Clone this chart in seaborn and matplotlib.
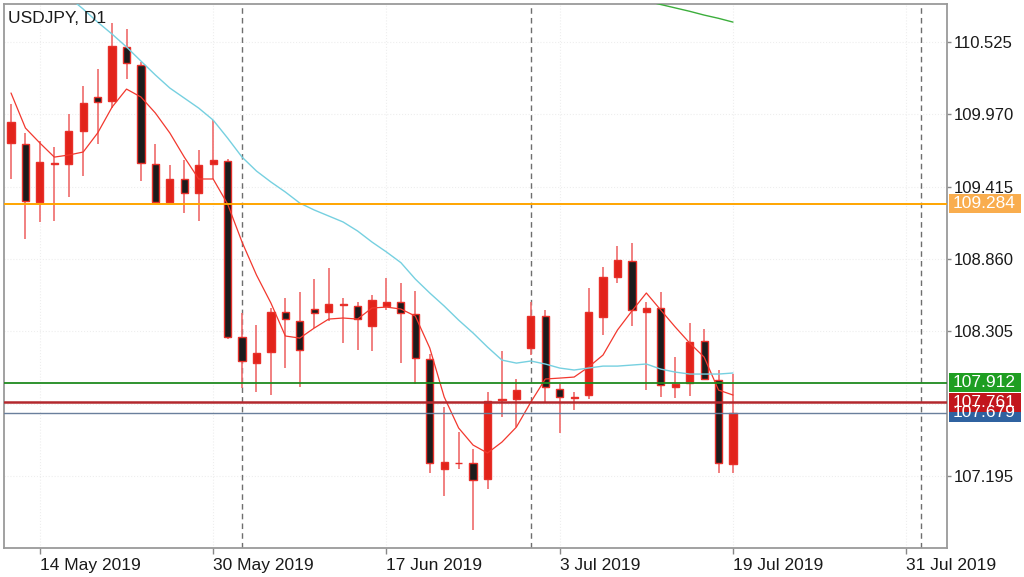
import matplotlib
matplotlib.use('Agg')
import matplotlib.pyplot as plt
import matplotlib.transforms as mtransforms
from matplotlib.patches import Rectangle
import seaborn as sns

# daily candles, 10 May 2019 .. 19 Jul 2019
opens = [109.750, 109.742, 109.297, 109.592, 109.589, 109.842, 110.103, 110.072, 110.487, 110.348,
         109.589, 109.297, 109.474, 109.366, 109.589, 109.612, 108.261, 108.061, 108.146, 108.453,
         108.384, 108.476, 108.453, 108.507, 108.499, 108.345, 108.499, 108.530, 108.437, 108.092,
         107.248, 107.292, 107.294, 107.171, 107.778, 107.785, 108.177, 108.422, 107.862, 107.797,
         107.816, 108.415, 108.722, 108.844, 108.453, 108.484, 107.877, 107.908, 108.230, 107.931,
         107.286]
highs = [110.049, 109.827, 109.765, 109.719, 109.972, 110.187, 110.318, 110.671, 110.625, 110.371,
         109.742, 109.581, 109.619, 109.696, 109.926, 109.627, 108.445, 108.353, 108.484, 108.560,
         108.606, 108.706, 108.791, 108.560, 108.530, 108.583, 108.714, 108.675, 108.614, 108.130,
         107.724, 107.532, 107.401, 107.839, 108.153, 107.939, 108.530, 108.468, 107.900, 107.839,
         108.637, 108.798, 108.959, 108.982, 108.530, 108.606, 108.107, 108.369, 108.322, 108.008,
         107.977]
lows = [109.474, 109.013, 109.144, 109.151, 109.335, 109.497, 109.742, 110.018, 110.241, 109.458,
        109.289, 109.289, 109.213, 109.151, 109.474, 108.246, 107.870, 107.839, 107.816, 108.023,
        107.877, 108.330, 108.384, 108.215, 108.161, 108.154, 108.468, 108.061, 107.900, 107.217,
        107.041, 107.248, 106.780, 107.095, 107.647, 107.570, 108.123, 107.754, 107.524, 107.701,
        107.785, 108.276, 108.675, 108.345, 107.854, 107.800, 107.793, 107.808, 107.931, 107.217,
        107.217]
closes = [109.911, 109.305, 109.604, 109.600, 109.842, 110.057, 110.065, 110.494, 110.364, 109.596,
          109.297, 109.474, 109.366, 109.581, 109.619, 108.261, 108.077, 108.138, 108.453, 108.399,
          108.161, 108.445, 108.514, 108.514, 108.399, 108.545, 108.530, 108.445, 108.100, 107.294,
          107.302, 107.296, 107.164, 107.770, 107.785, 107.854, 108.422, 107.877, 107.800, 107.800,
          108.453, 108.722, 108.852, 108.468, 108.484, 107.893, 107.900, 108.223, 107.939, 107.294,
          107.678]

# moving averages
ma_fast = [110.134, 109.865, 109.750, 109.642, 109.658, 109.681, 109.827, 110.026, 110.164, 110.103,
           109.980, 109.827, 109.642, 109.474, 109.474, 109.282, 108.990, 108.737, 108.522, 108.269,
           108.253, 108.330, 108.399, 108.407, 108.399, 108.484, 108.491, 108.476, 108.422, 108.177,
           107.801, 107.563, 107.432, 107.371, 107.455, 107.570, 107.762, 107.939, 107.946, 107.954,
           108.031, 108.123, 108.315, 108.461, 108.599, 108.468, 108.338, 108.215, 108.107, 107.854,
           107.816]
ma_mid_start = 4
ma_mid = [110.870, 110.778, 110.678, 110.586, 110.487, 110.379, 110.272, 110.172, 110.095, 110.018,
          109.926, 109.788, 109.642, 109.535, 109.451, 109.374, 109.289, 109.236, 109.190, 109.144,
          109.075, 108.990, 108.914, 108.832, 108.706, 108.599, 108.499, 108.391, 108.292, 108.184,
          108.084, 108.061, 108.077, 108.054, 108.023, 108.008, 108.023, 108.038, 108.038, 108.046,
          108.054, 108.015, 107.992, 107.977, 107.977, 107.977, 107.985]
ma_slow_start = 44
ma_slow = [110.841, 110.813, 110.787, 110.761, 110.732, 110.707, 110.678]

# horizontal levels
levels = [109.284, 107.912, 107.761, 107.679]
level_names = ['109.284', '107.912', '107.761', '107.679']

yticks = [107.195, 108.305, 108.860, 109.415, 109.970, 110.525]
xtick_pos = [2, 14, 26, 38, 50, 62]
xtick_labels = ['14 May 2019', '30 May 2019', '17 Jun 2019', '3 Jul 2019', '19 Jul 2019', '31 Jul 2019']
separators = [16, 36, 63]

sns.set_theme(style='white')
plt.rcParams['font.family'] = ['Liberation Sans', 'DejaVu Sans']

fig = plt.figure(figsize=(10.24, 5.77), dpi=100)
ax = fig.add_axes([4 / 1024, 29 / 577, 942.7 / 1024, 544 / 577])

idx = list(range(len(opens)))

# faint grid
for xp in xtick_pos:
    ax.axvline(xp, color='#eeeeee', lw=0.8, ls=':', zorder=0)
for yp in yticks + [107.750]:
    ax.axhline(yp, color='#eeeeee', lw=0.8, ls=':', zorder=0)

# month separators
for s in separators:
    ax.axvline(s, color='#6e6e6e', lw=1, ls=(0, (4, 3)), zorder=1)

# candles
up = [c >= o for o, c in zip(opens, closes)]
ax.vlines(idx, lows, highs, color='#ef6b6b', lw=1.2, zorder=2)
bottoms = [min(o, c) for o, c in zip(opens, closes)]
heights = [max(abs(c - o), 0.004) for o, c in zip(opens, closes)]
fills = ['#e2231a' if u else '#1c1c1c' for u in up]
ax.bar(idx, heights, bottom=bottoms, width=0.5, color=fills,
       edgecolor='#e8302a', linewidth=1.0, zorder=3)

# moving averages
sns.lineplot(x=idx, y=ma_fast, ax=ax, color='#f2382e', lw=0.9, zorder=4)
sns.lineplot(x=list(range(ma_mid_start, ma_mid_start + len(ma_mid))), y=ma_mid, ax=ax,
             color='#76d0e0', lw=1.0, zorder=4)
sns.lineplot(x=list(range(ma_slow_start, ma_slow_start + len(ma_slow))), y=ma_slow, ax=ax,
             color='#3cae3c', lw=1.0, zorder=4)

line_cols = ['#ffa500', '#1f8a1f', '#b3282d', '#6a7f9c']
line_w = [1.4, 1.3, 1.8, 1.0]
for lv, lc, lw in zip(levels, line_cols, line_w):
    ax.axhline(lv, color=lc, lw=lw, zorder=5)

ax.set_xlim(-0.485, 64.8)
ax.set_ylim(106.642, 110.817)

ax.yaxis.tick_right()
ax.set_yticks(yticks)
ax.set_yticklabels(['%.3f' % v for v in yticks])
ax.set_xticks(xtick_pos)
ax.set_xticklabels(xtick_labels)
for lab in ax.get_xticklabels():
    lab.set_horizontalalignment('left')
ax.tick_params(axis='y', right=True, left=False, length=3, width=1, color='#888888',
               pad=2, labelsize=12, labelcolor='#1a1a1a')
ax.tick_params(axis='x', bottom=True, length=4, width=1, color='#888888',
               pad=3, labelsize=12.5, labelcolor='#1a1a1a')
for sp in ax.spines.values():
    sp.set_color('#9a9a9a')
    sp.set_linewidth(1.3)
ax.set_xlabel('')
ax.set_ylabel('')

# price labels on the right axis
trans = mtransforms.blended_transform_factory(ax.transAxes, ax.transData)
box_cols = ['#f9ad4e', '#1f9e22', '#c2161c', '#2f62a0']
box_h = 19 / 130.3
order = [3, 2, 1, 0]
for i in order:
    ax.add_patch(Rectangle((1.0024, levels[i] - box_h / 2), 0.0764, box_h, transform=trans,
                           facecolor=box_cols[i], edgecolor='none', clip_on=False, zorder=6))
    ax.text(1.0066, levels[i], level_names[i], transform=trans, color='white', fontsize=12.5,
            va='center', ha='left', clip_on=False, zorder=7)

ax.text(0.0045, 0.965, 'USDJPY, D1', transform=ax.transAxes, fontsize=12.5,
        color='#1a1a1a', va='baseline', ha='left', zorder=8)

fig.savefig('out.png', dpi=100)
